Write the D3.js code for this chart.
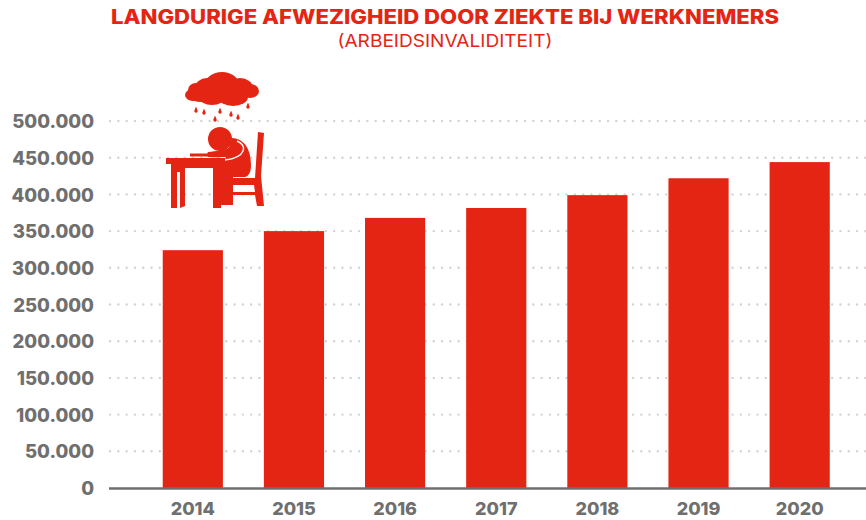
<!DOCTYPE html>
<html><head><meta charset="utf-8">
<script src="https://cdn.jsdelivr.net/npm/d3@7/dist/d3.min.js"></script>
<style>html,body{margin:0;padding:0;background:#fff}svg{display:block}text{font-family:Inter,"Open Sans",sans-serif}</style>
</head><body><svg id="c" width="866" height="520"></svg>
<script>
const years=["2014","2015","2016","2017","2018","2019","2020"];
const values=[324000,350000,368000,381500,399000,422000,444000];
const yTicks=[0,50000,100000,150000,200000,250000,300000,350000,400000,450000,500000];
const titleText="LANGDURIGE AFWEZIGHEID DOOR ZIEKTE BIJ WERKNEMERS";
const subtitleText="(ARBEIDSINVALIDITEIT)";
const red="#e42514",grey="#706f6f";
const svg=d3.select("#c");
const y=d3.scaleLinear().domain([0,500000]).range([488,121]);
const x=d3.scaleBand().domain(years).range([142.5,850]).paddingInner(0.405).paddingOuter(0.2);
const fmt=v=>d3.format(",")(v).replace(/,/g,".");
const gridG=svg.append("g");
yTicks.filter(d=>d>0).forEach(t=>{
  gridG.append("line").attr("x1",110).attr("x2",866).attr("y1",y(t)).attr("y2",y(t))
   .attr("stroke","#d4d4d4").attr("stroke-width",2.4).attr("stroke-linecap","round").attr("stroke-dasharray","0.1 8.2");
});
svg.append("g").selectAll("rect").data(values).join("rect")
 .attr("x",(d,i)=>x(years[i])).attr("width",x.bandwidth())
 .attr("y",d=>y(d)).attr("height",d=>y(0)-y(d)).attr("fill",red);
svg.append("line").attr("x1",109).attr("x2",866).attr("y1",488.5).attr("y2",488.5).attr("stroke",grey).attr("stroke-width",2.6);
const yAxis=d3.axisLeft(y).tickValues(yTicks).tickFormat(fmt).tickSize(0).tickPadding(0);
const gy=svg.append("g").attr("transform","translate(94,0.7)").call(yAxis);
gy.select(".domain").remove();
gy.selectAll("text").attr("fill",grey).attr("font-size",18.6).attr("font-weight",800).style("font-family","Inter,sans-serif");
const xAxis=d3.axisBottom(x).tickSize(0).tickPadding(0);
const gx=svg.append("g").attr("transform","translate(0,502)").call(xAxis);
gx.select(".domain").remove();
gx.selectAll("text").attr("fill",grey).attr("font-size",18).attr("font-weight",800).attr("dy","0.71em");
svg.append("text").attr("x",445).attr("y",24).attr("text-anchor","middle").attr("fill",red)
 .attr("font-size",20).attr("font-weight",800).attr("textLength",668).attr("lengthAdjust","spacingAndGlyphs").text(titleText);
svg.append("text").attr("x",445).attr("y",47).attr("text-anchor","middle").attr("fill",red)
 .attr("font-size",17).attr("font-weight",400).attr("textLength",215).attr("lengthAdjust","spacingAndGlyphs").text(subtitleText);
// decorative icon
const ic=svg.append("g").attr("fill",red);
[[193,95,8,6],[196,90,8,7],[207,88,12,10],[222,85,17,13],[240,88,13,10],[250,91,9,7],[233,97,15,9],[212,97,13,8],[200,96,10,6]].forEach(e=>
  ic.append("ellipse").attr("cx",e[0]).attr("cy",e[1]).attr("rx",e[2]).attr("ry",e[3]));
[[196,110],[204,112],[220,111],[231,114],[238,117],[215,119],[248,106]].forEach(p=>
  ic.append("path").attr("d",`M${p[0]} ${p[1]-3.5}l1.6 4a1.7 1.7 0 1 1-3.2 0z`));
// chair
ic.append("path").attr("d","M258 132L264 133L261 176L264 206H257L255 195H233V205H227V178H255ZM233 185V192H255L254 185Z");
// torso and thigh
ic.append("path").attr("d","M232 138C245 139 251 150 251 165C251 172 249 176 245 177H233V205H221V164L225 160Z");
// arm with white outline
ic.append("path").attr("d","M237 141C242 143 245 147 243 151C241 156 234 159 225 160C218 159 212 158 208 157")
 .attr("fill","none").attr("stroke","#fff").attr("stroke-width",1.4);
ic.append("path").attr("d","M208 152C216 151 224 151 232 146C236 142 241 146 241 150C240 155 232 158 208 157C207 156 207 153 208 152Z");
ic.append("circle").attr("cx",220).attr("cy",139).attr("r",12);
// desk
ic.append("path").attr("d","M166 158H225V164H221V208H213V168H185V206L180 208V172H177V208H171V164H166Z");
// book
ic.append("rect").attr("x",190).attr("y",153.5).attr("width",18).attr("height",3);
</script></body></html>
